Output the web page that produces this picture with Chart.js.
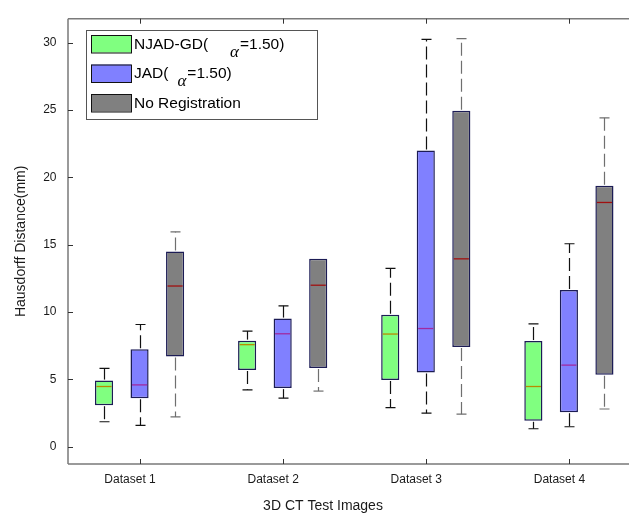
<!DOCTYPE html>
<html>
<head>
<meta charset="utf-8">
<script src="https://cdn.jsdelivr.net/npm/chart.js@4.4.1/dist/chart.umd.min.js"></script>
<style>
  html, body { margin: 0; padding: 0; background: #fff; overflow: hidden; }
  canvas { display: block; }
</style>
</head>
<body>
<canvas id="chart" width="629" height="516"></canvas>
<script>
const categories = ["Dataset 1", "Dataset 2", "Dataset 3", "Dataset 4"];
const seriesLabels = ["NJAD-GD(α=1.50)", "JAD(α=1.50)", "No Registration"];
const yTicks = [0, 5, 10, 15, 20, 25, 30];

// whisker low, Q1, median, Q3, whisker high
const njadMin = [1.84, 4.21, 2.89, 1.32];
const njadQ1  = [3.07, 5.69, 4.95, 1.91];
const njadMed = [4.46, 7.57, 8.36, 4.46];
const njadQ3  = [4.90, 7.87, 9.80, 7.84];
const njadMax = [5.81, 8.58, 13.24, 9.12];

const jadMin = [1.57, 3.60, 2.48, 1.47];
const jadQ1  = [3.58, 4.34, 5.51, 2.55];
const jadMed = [4.58, 8.38, 8.77, 6.05];
const jadQ3  = [7.23, 9.51, 22.01, 11.64];
const jadMax = [9.07, 10.46, 30.27, 15.07];

const noRegMin = [2.20, 4.12, 2.40, 2.79];
const noRegQ1  = [6.69, 5.83, 7.40, 5.34];
const noRegMed = [11.93, 11.99, 13.95, 18.14];
const noRegQ3  = [14.49, 13.95, 24.95, 19.39];
const noRegMax = [15.96, 13.95, 30.32, 24.43];

const stats = [
    { min: njadMin, q1: njadQ1, med: njadMed, q3: njadQ3, max: njadMax },
    { min: jadMin, q1: jadQ1, med: jadMed, q3: jadQ3, max: jadMax },
    { min: noRegMin, q1: noRegQ1, med: noRegMed, q3: noRegQ3, max: noRegMax }
];

const fills = ["#80ff80", "#8080ff", "#808080"];
const medianColors = ["#b88a00", "#a02aa0", "#a01010"];
const whiskerColors = ["#111111", "#111111", "#6f6f6f"];
const alphaGaps = [22, 9, 0];

const FONT = "'Liberation Sans', Arial, sans-serif";

function boxData(s) {
    return s.q1.map((q, i) => ({ x: i, y: [q, s.q3[i]] }));
}

// medians, whiskers and caps on top of the bars
const boxExtras = {
    id: "boxExtras",
    afterDatasetsDraw(chart) {
        const ctx = chart.ctx;
        const y = chart.scales.y;
        ctx.save();
        stats.forEach((s, d) => {
            const meta = chart.getDatasetMeta(d);
            meta.data.forEach((bar, i) => {
                const cx = Math.round(bar.x) + 0.5;
                const half = bar.width / 2;
                const yq1 = y.getPixelForValue(s.q1[i]);
                const yq3 = y.getPixelForValue(s.q3[i]);
                const yMin = y.getPixelForValue(s.min[i]);
                const yMax = y.getPixelForValue(s.max[i]);
                const yMed = y.getPixelForValue(s.med[i]);

                // median
                ctx.setLineDash([]);
                ctx.strokeStyle = medianColors[d];
                ctx.lineWidth = 1.3;
                ctx.beginPath();
                ctx.moveTo(bar.x - half + 1.5, yMed);
                ctx.lineTo(bar.x + half - 1.5, yMed);
                ctx.stroke();

                // whiskers
                ctx.strokeStyle = whiskerColors[d];
                ctx.lineWidth = 1.2;
                ctx.setLineDash([13, 5]);
                if (yMax < yq3 - 1) {
                    ctx.beginPath();
                    ctx.moveTo(cx, yq3 - 1);
                    ctx.lineTo(cx, yMax);
                    ctx.stroke();
                }
                if (yMin > yq1 + 1) {
                    ctx.beginPath();
                    ctx.moveTo(cx, yq1 + 1);
                    ctx.lineTo(cx, yMin);
                    ctx.stroke();
                }
                // caps
                ctx.setLineDash([]);
                ctx.beginPath();
                if (yMax < yq3 - 1) {
                    ctx.moveTo(cx - 5, yMax);
                    ctx.lineTo(cx + 5, yMax);
                }
                ctx.moveTo(cx - 5, yMin);
                ctx.lineTo(cx + 5, yMin);
                ctx.stroke();
            });
        });
        ctx.restore();
    }
};

// frame, inward ticks, axis titles and the legend box
const frame = {
    id: "frame",
    afterDraw(chart) {
        const ctx = chart.ctx;
        const a = chart.chartArea;
        const x = chart.scales.x;
        const y = chart.scales.y;
        ctx.save();
        ctx.strokeStyle = "#7a7a7a";
        ctx.lineWidth = 1.5;
        ctx.beginPath();
        ctx.moveTo(a.left, a.top);
        ctx.lineTo(a.left, a.bottom);
        ctx.moveTo(a.left, a.top);
        ctx.lineTo(a.right, a.top);
        ctx.moveTo(a.left, a.bottom);
        ctx.lineTo(a.right, a.bottom);
        ctx.stroke();

        ctx.strokeStyle = "#333";
        ctx.lineWidth = 1;
        ctx.beginPath();
        yTicks.forEach(v => {
            const py = Math.round(y.getPixelForValue(v)) + 0.5;
            ctx.moveTo(a.left, py);
            ctx.lineTo(a.left + 5, py);
        });
        categories.forEach((c, i) => {
            const px = Math.round(x.getPixelForValue(i)) + 0.5;
            ctx.moveTo(px, a.bottom);
            ctx.lineTo(px, a.bottom - 5);
            ctx.moveTo(px, a.top);
            ctx.lineTo(px, a.top + 5);
        });
        ctx.stroke();

        // axis titles
        ctx.fillStyle = "#1a1a1a";
        ctx.font = "14px " + FONT;
        ctx.textAlign = "center";
        ctx.textBaseline = "middle";
        ctx.fillText("3D CT Test Images", 323, 506);
        ctx.save();
        ctx.translate(21, (a.top + a.bottom) / 2);
        ctx.rotate(-Math.PI / 2);
        ctx.fillText("Hausdorff Distance(mm)", 0, 0);
        ctx.restore();

        // legend
        ctx.fillStyle = "#fff";
        ctx.fillRect(86, 30, 231, 89);
        ctx.strokeStyle = "#555";
        ctx.lineWidth = 1;
        ctx.strokeRect(86.5, 30.5, 231, 89);
        seriesLabels.forEach((label, i) => {
            const top = 35 + i * 29.5;
            ctx.fillStyle = fills[i];
            ctx.fillRect(91, top, 40, 17.5);
            ctx.strokeStyle = "#111";
            ctx.strokeRect(91.5, top + 0.5, 40, 17.5);
            const base = top + 13.5;
            ctx.fillStyle = "#000";
            ctx.textAlign = "left";
            ctx.textBaseline = "alphabetic";
            ctx.font = "15.5px " + FONT;
            const parts = label.split("α");
            ctx.fillText(parts[0], 134, base);
            if (parts.length > 1) {
                let px = 134 + ctx.measureText(parts[0]).width + alphaGaps[i];
                ctx.font = "italic 17px 'Liberation Serif', 'DejaVu Serif', serif";
                ctx.fillText("α", px, base + 8);
                px += ctx.measureText("α").width + 1;
                ctx.font = "15.5px " + FONT;
                ctx.fillText(parts[1], px, base);
            }
        });
        ctx.restore();
    }
};

new Chart(document.getElementById("chart"), {
    type: "bar",
    data: {
        datasets: stats.map((s, d) => ({
            label: seriesLabels[d],
            data: boxData(s),
            backgroundColor: fills[d],
            borderColor: "#1c1c55",
            borderWidth: 1.5,
            borderSkipped: false,
            categoryPercentage: 0.745,
            barPercentage: 0.51
        }))
    },
    options: {
        responsive: false,
        animation: false,
        layout: { padding: { top: 13, left: 0, right: 0, bottom: 0 } },
        scales: {
            x: {
                type: "linear",
                offset: false,
                min: -0.5,
                max: 3.42,
                grid: { display: false, drawTicks: false, offset: false },
                border: { display: false },
                afterBuildTicks: s => { s.ticks = categories.map((c, i) => ({ value: i })); },
                afterFit: s => { s.height = 52; },
                ticks: {
                    padding: 8.8,
                    labelOffset: -9.5,
                    color: "#1a1a1a",
                    font: { family: FONT, size: 12 },
                    callback: v => categories[v]
                }
            },
            y: {
                min: -1.3,
                max: 31.8,
                grid: { display: false, drawTicks: false },
                border: { display: false },
                afterBuildTicks: s => { s.ticks = yTicks.map(v => ({ value: v })); },
                afterFit: s => { s.width = 68; },
                ticks: {
                    padding: 11.5,
                    color: "#1a1a1a",
                    font: { family: FONT, size: 12 }
                }
            }
        },
        plugins: {
            legend: { display: false },
            tooltip: { enabled: false }
        }
    },
    plugins: [boxExtras, frame]
});
</script>
</body>
</html>
